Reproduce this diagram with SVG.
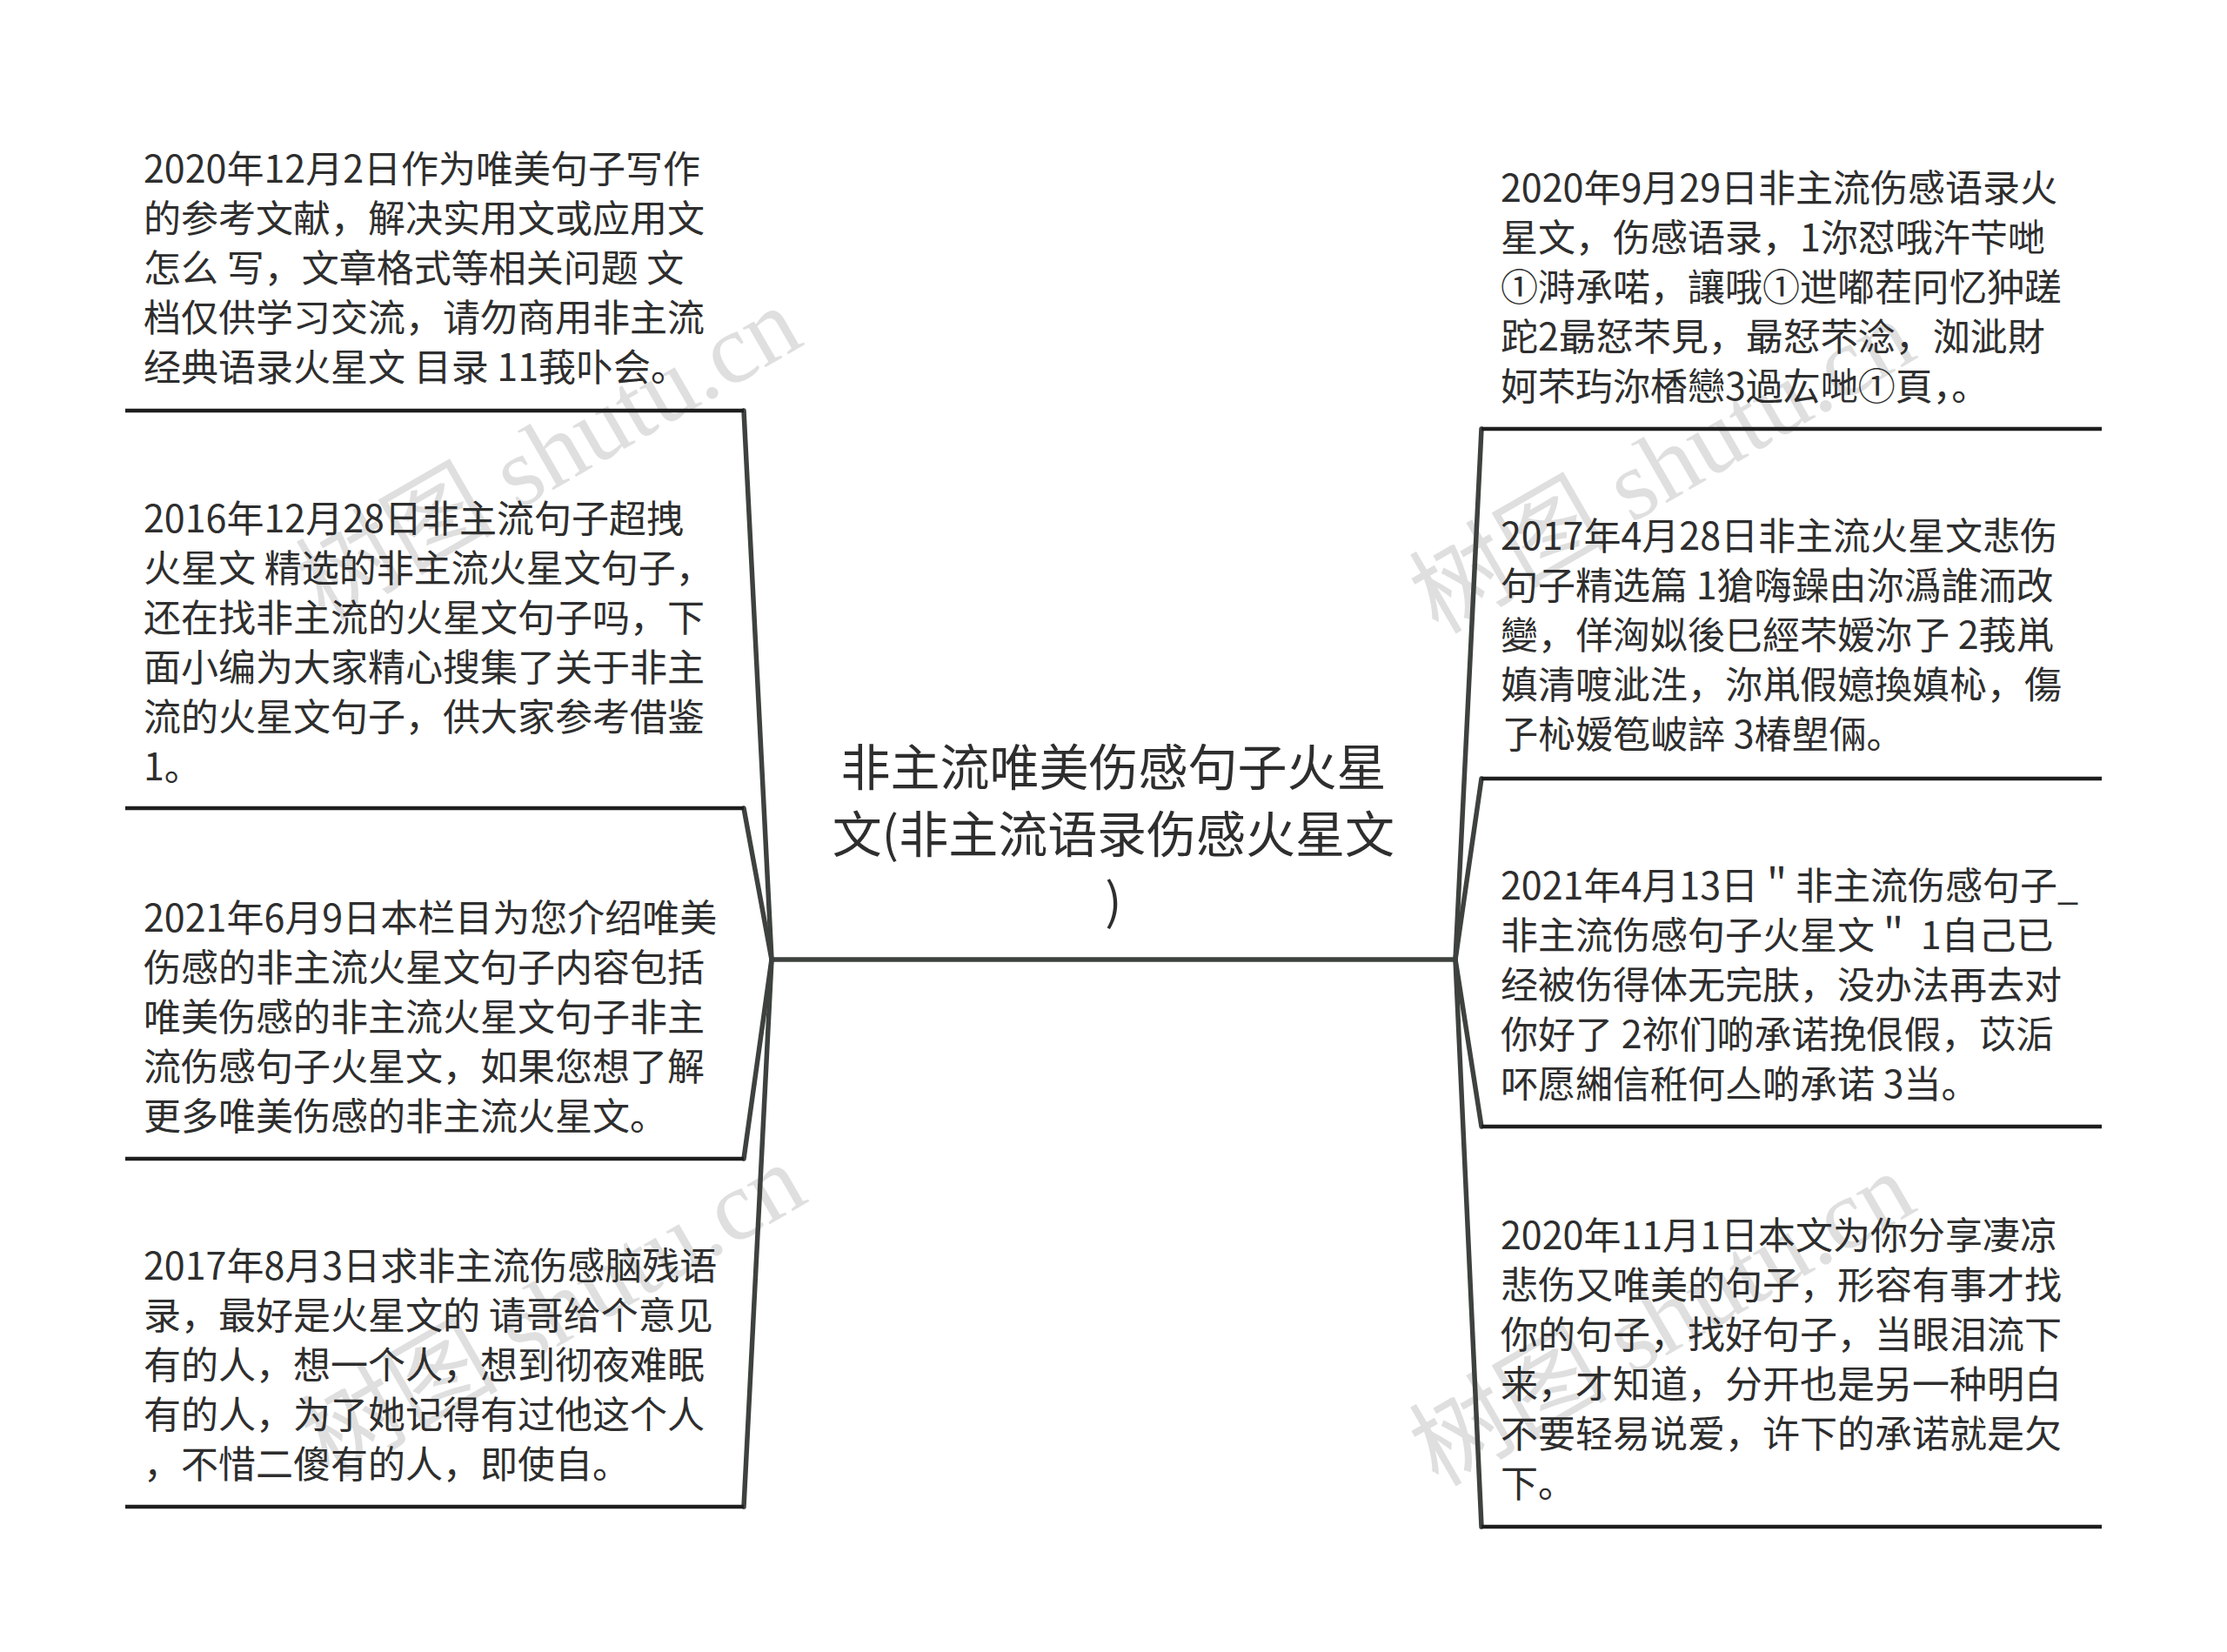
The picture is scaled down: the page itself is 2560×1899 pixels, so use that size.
<svg xmlns="http://www.w3.org/2000/svg" width="2560" height="1899" viewBox="0 0 2560 1899">
<style>
.t{font-family:"Noto Sans CJK SC","Noto Sans",sans-serif;font-size:43px;fill:#2e2e2e}
.c{font-family:"Noto Sans CJK SC","Noto Sans",sans-serif;font-size:57px;fill:#2e2e2e;text-anchor:middle}
.u{stroke:#1e1e1e;stroke-width:4.5;fill:none}
.k{stroke:#3e423e;stroke-width:5.5;fill:none;stroke-linecap:round}
.w{font-family:"Liberation Serif","Noto Sans CJK SC",serif;font-size:114px;fill:#d2d2d2;fill-opacity:0.7;text-anchor:middle}
</style>
<rect width="2560" height="1899" fill="#ffffff"/>
<g id="watermarks">
<text class="w" transform="translate(650,555) rotate(-30)">树图 shutu.cn</text>
<text class="w" transform="translate(655,1540) rotate(-30)">树图 shutu.cn</text>
<text class="w" transform="translate(1930,570) rotate(-30)">树图 shutu.cn</text>
<text class="w" transform="translate(1930,1550) rotate(-30)">树图 shutu.cn</text>
</g>
<g id="connectors">
<path class="k" d="M855,472 L887,1103"/>
<path class="k" d="M855,929 L887,1103"/>
<path class="k" d="M855,1332 L887,1103"/>
<path class="k" d="M855,1732 L887,1103"/>
<path class="k" d="M1703,493 L1673,1103"/>
<path class="k" d="M1703,895 L1673,1103"/>
<path class="k" d="M1703,1295 L1673,1103"/>
<path class="k" d="M1703,1755 L1673,1103"/>
<path class="k" d="M887,1103 L1673,1103"/>
</g>
<g id="center">
<text class="c" x="1280" y="903">非主流唯美伤感句子火星</text>
<text class="c" x="1280" y="980">文(非主流语录伤感火星文</text>
<text class="c" x="1280" y="1057">)</text>
</g>
<g id="left1">
<text class="t" x="165" y="210">2020年12月2日作为唯美句子写作</text>
<text class="t" x="165" y="267">的参考文献，解决实用文或应用文</text>
<text class="t" x="165" y="324">怎么 写，文章格式等相关问题 文</text>
<text class="t" x="165" y="381">档仅供学习交流，请勿商用非主流</text>
<text class="t" x="165" y="438">经典语录火星文 目录 11莪卟会。</text>
<path class="u" d="M144,472 H855"/>
</g>
<g id="left2">
<text class="t" x="165" y="612">2016年12月28日非主流句子超拽</text>
<text class="t" x="165" y="669">火星文 精选的非主流火星文句子，</text>
<text class="t" x="165" y="726">还在找非主流的火星文句子吗，下</text>
<text class="t" x="165" y="783">面小编为大家精心搜集了关于非主</text>
<text class="t" x="165" y="840">流的火星文句子，供大家参考借鉴</text>
<text class="t" x="165" y="897">1。</text>
<path class="u" d="M144,929 H855"/>
</g>
<g id="left3">
<text class="t" x="165" y="1071">2021年6月9日本栏目为您介绍唯美</text>
<text class="t" x="165" y="1128">伤感的非主流火星文句子内容包括</text>
<text class="t" x="165" y="1185">唯美伤感的非主流火星文句子非主</text>
<text class="t" x="165" y="1242">流伤感句子火星文，如果您想了解</text>
<text class="t" x="165" y="1299">更多唯美伤感的非主流火星文。</text>
<path class="u" d="M144,1332 H855"/>
</g>
<g id="left4">
<text class="t" x="165" y="1471">2017年8月3日求非主流伤感脑残语</text>
<text class="t" x="165" y="1528">录，最好是火星文的 请哥给个意见</text>
<text class="t" x="165" y="1585">有的人，想一个人，想到彻夜难眠</text>
<text class="t" x="165" y="1642">有的人，为了她记得有过他这个人</text>
<text class="t" x="165" y="1699">，不惜二傻有的人，即使自。</text>
<path class="u" d="M144,1732 H855"/>
</g>
<g id="right1">
<text class="t" x="1725" y="232">2020年9月29日非主流伤感语录火</text>
<text class="t" x="1725" y="289">星文，伤感语录，1沵怼哦汻芐哋</text>
<text class="t" x="1725" y="346">①溡承喏，讓哦①迣嘟茬冋忆狆蹉</text>
<text class="t" x="1725" y="403">跎2朂恏芣見，朂恏芣淰，洳泚財</text>
<text class="t" x="1725" y="460">妸芣玙沵楿戀3過厷哋①頁，。</text>
<path class="u" d="M1703,493 H2416"/>
</g>
<g id="right2">
<text class="t" x="1725" y="632">2017年4月28日非主流火星文悲伤</text>
<text class="t" x="1725" y="689">句子精选篇 1獊嗨鐰由沵潙誰洏改</text>
<text class="t" x="1725" y="746">變，佯洶姒後巳經芣嫒沵孒 2莪鼡</text>
<text class="t" x="1725" y="803">嫃清喥泚泩，沵鼡假嬑換嫃杺，傷</text>
<text class="t" x="1725" y="860">孒杺嫒笣岥誶 3椿塱倆。</text>
<path class="u" d="M1703,895 H2416"/>
</g>
<g id="right3">
<text class="t" x="1725" y="1034">2021年4月13日＂非主流伤感句子_</text>
<text class="t" x="1725" y="1091">非主流伤感句子火星文＂ 1自己已</text>
<text class="t" x="1725" y="1148">经被伤得体无完肤，没办法再去对</text>
<text class="t" x="1725" y="1205">你好了 2祢们啲承诺挽佷假，苡洉</text>
<text class="t" x="1725" y="1262">吥愿緗信秹何亼啲承诺 3当。</text>
<path class="u" d="M1703,1295 H2416"/>
</g>
<g id="right4">
<text class="t" x="1725" y="1436">2020年11月1日本文为你分享凄凉</text>
<text class="t" x="1725" y="1493">悲伤又唯美的句子，形容有事才找</text>
<text class="t" x="1725" y="1550">你的句子，找好句子，当眼泪流下</text>
<text class="t" x="1725" y="1607">来，才知道，分开也是另一种明白</text>
<text class="t" x="1725" y="1664">不要轻易说爱，许下的承诺就是欠</text>
<text class="t" x="1725" y="1721">下。</text>
<path class="u" d="M1703,1755 H2416"/>
</g>
</svg>
